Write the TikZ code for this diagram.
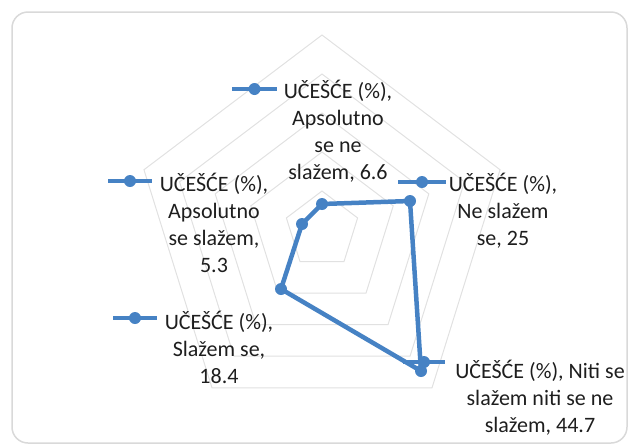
\documentclass[tikz,border=0pt]{standalone}
\usepackage{fontspec}
\setmainfont{Carlito}
\usetikzlibrary{calc}
\definecolor{series}{RGB}{70,130,196}
\definecolor{gridc}{RGB}{225,225,225}
\definecolor{framec}{RGB}{217,217,217}
\definecolor{txt}{RGB}{30,30,30}
\begin{document}
\begin{tikzpicture}[x=1pt,y=-1pt,
  gridline/.style={draw=gridc,line width=1pt},
  dataline/.style={draw=series,line width=4.5pt,line join=round,line cap=round},
  keyline/.style={draw=series,line width=4.5pt},
  dot/.style={circle,fill=series,inner sep=0pt,minimum size=12pt},
  lbl/.style={align=center,text=txt,font=\fontsize{22}{27}\selectfont,inner sep=0pt}]
\useasboundingbox (0,0) rectangle (629,445);
\draw[draw=framec,line width=1.5pt,rounded corners=16pt] (12,12) rectangle (627,443);
% grid
\foreach \k in {1,...,5}{
  \pgfmathsetmacro\r{39*\k}
  \draw[gridline] (322,{230-\r}) -- ({322+0.96*\r*sin(72)},{230-\r*cos(72)})
    -- ({322+0.96*\r*sin(144)},{230-\r*cos(144)})
    -- ({322-0.96*\r*sin(144)},{230-\r*cos(144)})
    -- ({322-0.96*\r*sin(72)},{230-\r*cos(72)}) -- cycle;
}
% data
\coordinate (p1) at (322,204);
\coordinate (p2) at (410,201);
\coordinate (p3) at (421,371);
\coordinate (p4) at (281,289);
\coordinate (p5) at (302,224);
\draw[dataline] (p1) -- (p2) -- (p3) -- (p4) -- (p5) -- cycle;
\foreach \p in {p1,p2,p3,p4,p5} \node[dot] at (\p) {};
% legend keys
\coordinate (k1a) at (232,89);  \coordinate (k1b) at (277,89);
\coordinate (k2a) at (398,182); \coordinate (k2b) at (446,182);
\coordinate (k3a) at (108,181); \coordinate (k3b) at (152,181);
\coordinate (k4a) at (113,318); \coordinate (k4b) at (157,318);
\coordinate (k5a) at (403,362); \coordinate (k5b) at (445,362);
\foreach \i in {1,...,5}{
  \draw[keyline] (k\i a) -- (k\i b);
  \node[dot] (k\i) at ($(k\i a)!0.5!(k\i b)$) {};
}
% labels
\node[lbl] (t1) at (338,131) {UČEŠĆE (\%),\\Apsolutno\\se ne\\slažem, 6.6};
\node[lbl] (t2) at (503,211) {UČEŠĆE (\%),\\Ne slažem\\se, 25};
\node[lbl] (t3) at (214,223) {UČEŠĆE (\%),\\Apsolutno\\se slažem,\\5.3};
\node[lbl] (t4) at (219,347) {UČEŠĆE (\%),\\Slažem se,\\18.4};
\node[lbl] (t5) at (540,398) {UČEŠĆE (\%), Niti se\\slažem niti se ne\\slažem, 44.7};
\end{tikzpicture}
\end{document}
